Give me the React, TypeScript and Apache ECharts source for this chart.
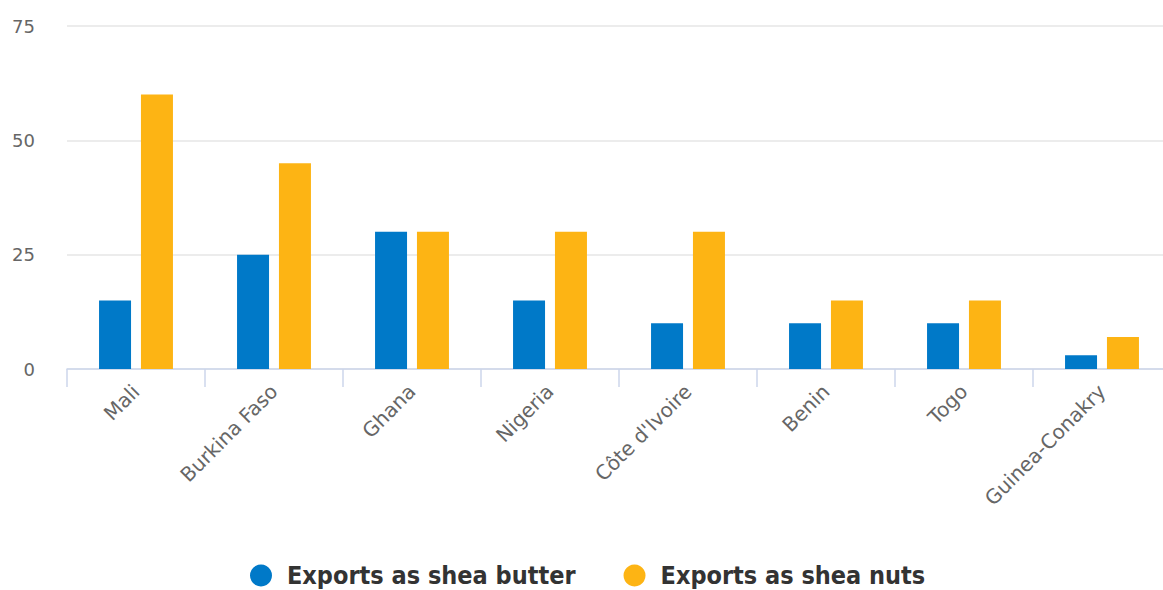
import React, { useEffect, useRef } from "react";
import * as echarts from "echarts";

const categories = ["Mali", "Burkina Faso", "Ghana", "Nigeria", "Côte d'Ivoire", "Benin", "Togo", "Guinea-Conakry"];
const sheaButter = [15, 25, 30, 15, 10, 10, 10, 3];
const sheaNuts = [60, 45, 30, 30, 30, 15, 15, 7];
const seriesNames = ["Exports as shea butter", "Exports as shea nuts"];
const yTicks = { min: 0, max: 75, interval: 25 };

export default function App() {
  const ref = useRef<HTMLDivElement>(null);
  useEffect(() => {
    const chart = echarts.init(ref.current!, undefined, { renderer: "svg" });
    chart.setOption({
      animation: false,
      color: ["#0079C8", "#FDB414"],
      grid: { left: 67, right: 0, top: 26, bottom: 221, containLabel: false },
      legend: {
        top: 563,
        left: 250,
        padding: 0,
        icon: "circle",
        itemWidth: 22,
        itemHeight: 22,
        itemGap: 48,
        textStyle: { fontFamily: "DejaVu Sans Condensed", fontWeight: "bold", fontSize: 25, lineHeight: 25, color: "#333", padding: [0, 0, 0, 10] },
        data: seriesNames,
      },
      xAxis: {
        type: "category",
        data: categories,
        axisLine: { lineStyle: { color: "#ccd6eb", width: 1.5 } },
        axisTick: { show: true, length: 18, lineStyle: { color: "#ccd6eb", width: 1.5 } },
        axisLabel: { rotate: 45, fontFamily: "DejaVu Sans", fontSize: 20, color: "#666", margin: 19 },
      },
      yAxis: {
        type: "value",
        min: yTicks.min,
        max: yTicks.max,
        interval: yTicks.interval,
        axisLine: { show: false },
        axisTick: { show: false },
        splitLine: { lineStyle: { color: "#e6e6e6", width: 1.5 } },
        axisLabel: { fontFamily: "DejaVu Sans", fontSize: 18, color: "#666", margin: 32 },
      },
      series: [
        { name: seriesNames[0], type: "bar", data: sheaButter, barWidth: 32, barGap: "31%" },
        { name: seriesNames[1], type: "bar", data: sheaNuts, barWidth: 32, barGap: "31%" },
      ],
    });
    return () => chart.dispose();
  }, []);
  return (
    <div style={{ position: "absolute", left: 0, top: 0, width: 1163, height: 590, overflow: "hidden" }}>
      <div ref={ref} style={{ width: 1171, height: 590 }} />
    </div>
  );
}
